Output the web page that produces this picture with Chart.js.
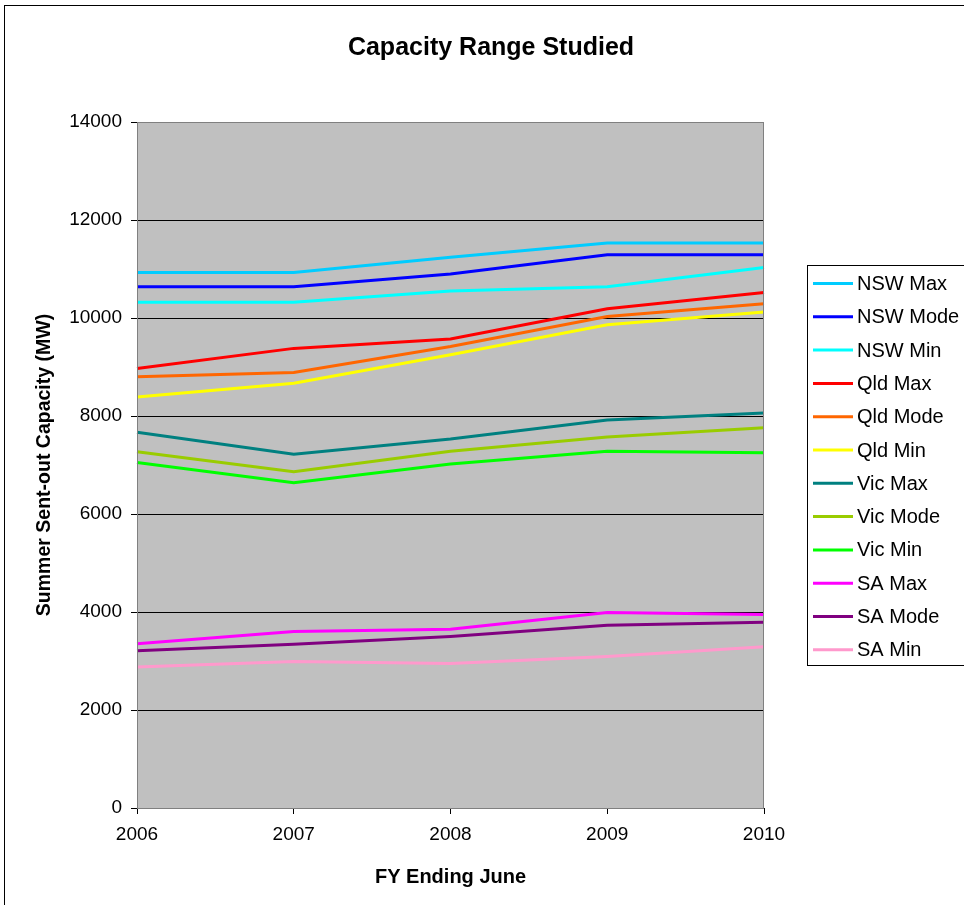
<!DOCTYPE html>
<html>
<head>
<meta charset="utf-8">
<script src="https://cdn.jsdelivr.net/npm/chart.js@4"></script>
<style>
  body { margin: 0; background: #fff; }
  canvas { display: block; }
</style>
</head>
<body>
<canvas id="chart" width="964" height="905"></canvas>
<script>
const years = ['2006', '2007', '2008', '2009', '2010'];

const nswMax  = [10930, 10930, 11240, 11530, 11530];
const nswMode = [10640, 10640, 10900, 11290, 11290];
const nswMin  = [10320, 10320, 10550, 10640, 11030];
const qldMax  = [8970, 9380, 9570, 10190, 10520];
const qldMode = [8800, 8890, 9420, 10030, 10290];
const qldMin  = [8390, 8670, 9250, 9860, 10120];
const vicMax  = [7670, 7220, 7530, 7920, 8060];
const vicMode = [7270, 6860, 7280, 7570, 7760];
const vicMin  = [7050, 6640, 7020, 7280, 7250];
const saMax   = [3350, 3600, 3650, 3990, 3950];
const saMode  = [3210, 3340, 3500, 3730, 3790];
const saMin   = [2880, 2990, 2950, 3090, 3290];

const series = [
    ['NSW Max', nswMax, '#00CCFF'],
    ['NSW Mode', nswMode, '#0000FF'],
    ['NSW Min', nswMin, '#00FFFF'],
    ['Qld Max', qldMax, '#FF0000'],
    ['Qld Mode', qldMode, '#FF6600'],
    ['Qld Min', qldMin, '#FFFF00'],
    ['Vic Max', vicMax, '#008080'],
    ['Vic Mode', vicMode, '#99CC00'],
    ['Vic Min', vicMin, '#00FF00'],
    ['SA Max', saMax, '#FF00FF'],
    ['SA Mode', saMode, '#800080'],
    ['SA Min', saMin, '#FF99CC']
];

const FONT = '"Liberation Sans", Arial, sans-serif';

// grey plot background, frame, title and the boxed legend
const decor = {
    id: 'decor',
    beforeDraw(chart) {
        const { ctx, chartArea: a } = chart;
        ctx.save();
        ctx.fillStyle = '#C0C0C0';
        ctx.fillRect(a.left, a.top, a.right - a.left, a.bottom - a.top);
        ctx.restore();
    },
    afterDraw(chart) {
        const { ctx, chartArea: a } = chart;
        ctx.save();
        ctx.strokeStyle = '#808080';
        ctx.lineWidth = 1;
        ctx.strokeRect(a.left + 0.5, a.top + 0.5, a.right - a.left - 1, a.bottom - a.top);

        // outer chart border
        ctx.strokeStyle = '#000';
        ctx.strokeRect(4.5, 5.5, 1000, 1000);

        ctx.fillStyle = '#000';
        ctx.font = 'bold 25px ' + FONT;
        ctx.textAlign = 'center';
        ctx.textBaseline = 'middle';
        ctx.fillText('Capacity Range Studied', 491, 48);

        // legend
        ctx.fillStyle = '#fff';
        ctx.fillRect(807.5, 265.5, 200, 400);
        ctx.strokeStyle = '#000';
        ctx.strokeRect(807.5, 265.5, 200, 400);
        ctx.font = '20px ' + FONT;
        ctx.textAlign = 'left';
        chart.data.datasets.forEach((ds, i) => {
            const y = 283.5 + i * 33.3;
            ctx.strokeStyle = ds.borderColor;
            ctx.lineWidth = 3;
            ctx.beginPath();
            ctx.moveTo(813, y);
            ctx.lineTo(853, y);
            ctx.stroke();
            ctx.fillStyle = '#000';
            ctx.fillText(ds.label, 857, y + 1);
        });
        ctx.restore();
    }
};

new Chart(document.getElementById('chart').getContext('2d'), {
    type: 'line',
    data: {
        labels: years,
        datasets: series.map(([label, data, color]) => ({
            label: label,
            data: data,
            borderColor: color,
            backgroundColor: color,
            borderWidth: 3,
            pointRadius: 0,
            tension: 0
        }))
    },
    options: {
        responsive: false,
        animation: false,
        layout: { padding: { left: 0, top: 122, right: 200, bottom: 0 } },
        plugins: {
            legend: { display: false },
            title: { display: false },
            tooltip: { enabled: false }
        },
        scales: {
            x: {
                offset: false,
                afterFit: s => { s.height = 97; },
                grid: { drawOnChartArea: false, color: '#000', tickLength: 6 },
                border: { color: '#000' },
                ticks: { color: '#000', padding: 9, maxRotation: 0, font: { family: FONT, size: 19 } },
                title: {
                    display: true,
                    text: 'FY Ending June',
                    color: '#000',
                    padding: { top: 0, bottom: 16 },
                    font: { family: FONT, size: 20, weight: 'bold' }
                }
            },
            y: {
                min: 0,
                max: 14000,
                afterFit: s => { s.width = 137; },
                grid: { color: '#000', tickLength: 6 },
                border: { color: '#000' },
                ticks: {
                    stepSize: 2000,
                    color: '#000',
                    padding: 9,
                    font: { family: FONT, size: 19 },
                    callback: v => String(v)
                },
                title: {
                    display: true,
                    text: 'Summer Sent-out Capacity (MW)',
                    color: '#000',
                    padding: { top: 33, bottom: 0 },
                    font: { family: FONT, size: 19.5, weight: 'bold' }
                }
            }
        }
    },
    plugins: [decor]
});
</script>
</body>
</html>
